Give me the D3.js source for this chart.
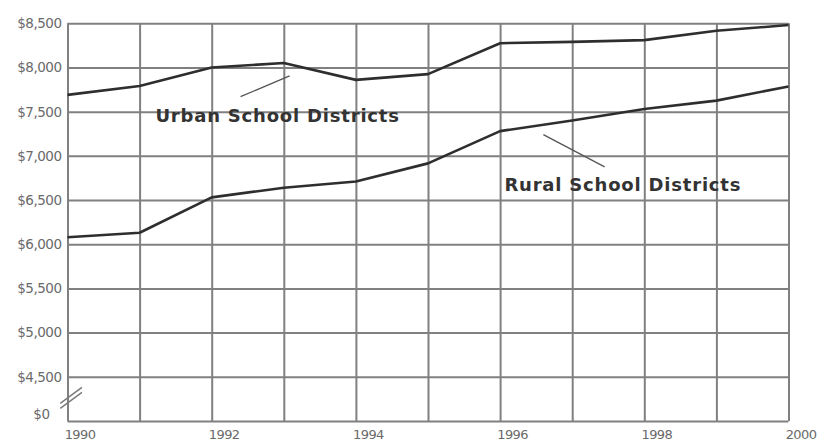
<!DOCTYPE html>
<html>
<head>
<meta charset="utf-8">
<script src="https://cdn.jsdelivr.net/npm/d3@7"></script>
<style>
  body { margin: 0; background: #fff; }
  svg { display: block; }
</style>
</head>
<body>
<div id="chart"></div>
<script>

// data
var years = [1990, 1991, 1992, 1993, 1994, 1995, 1996, 1997, 1998, 1999, 2000];
var urban = [7690, 7790, 8000, 8050, 7860, 7925, 8275, 8290, 8310, 8415, 8480];
var rural = [6080, 6130, 6530, 6640, 6710, 6915, 7280, 7400, 7530, 7625, 7785];

var yTicks = [4000, 4500, 5000, 5500, 6000, 6500, 7000, 7500, 8000, 8500];
var yTickLabels = ["$0", "$4,500", "$5,000", "$5,500", "$6,000", "$6,500", "$7,000", "$7,500", "$8,000", "$8,500"];
var xTicks = [1990, 1992, 1994, 1996, 1998, 2000];

// series labels with their leader lines, in data units
var seriesNames = ["Urban School Districts", "Rural School Districts"];
var labelPos = [[1991.22, 7385], [1996.06, 6600]];
var leaderFrom = [[1992.4, 7670], [1996.6, 7240]];
var leaderTo = [[1993.08, 7905], [1997.45, 6875]];

var W = 828, H = 442;
var margin = {top: 23.3, right: 39.5, bottom: 21, left: 67.5},
    width = W - margin.left - margin.right,
    height = H - margin.top - margin.bottom;

var svg = d3.select("#chart")
  .append("svg")
    .attr("width", W)
    .attr("height", H)
  .append("g")
    .attr("transform", "translate(" + margin.left + "," + margin.top + ")");

var x = d3.scaleLinear().domain([1990, 2000]).range([0, width]);
var y = d3.scaleLinear().domain([4000, 8500]).range([height, 0]);

var gridColor = "#808080";

// vertical grid every year
svg.append("g")
  .attr("class", "xgrid")
  .attr("transform", "translate(0," + height + ")")
  .call(d3.axisBottom(x).tickValues(years).tickSize(-height).tickFormat(""))
  .call(function(g) { g.select(".domain").remove(); })
  .selectAll("line")
    .attr("stroke", gridColor)
    .attr("stroke-width", 2);

// horizontal grid
svg.append("g")
  .attr("class", "ygrid")
  .call(d3.axisLeft(y).tickValues(yTicks).tickSize(-width).tickFormat(""))
  .call(function(g) { g.select(".domain").remove(); })
  .selectAll("line")
    .attr("stroke", gridColor)
    .attr("stroke-width", 2);

// y labels
var yAxis = svg.append("g")
  .call(d3.axisLeft(y).tickValues(yTicks).tickSize(0).tickPadding(6)
    .tickFormat(function(d, i) { return yTickLabels[i]; }));
yAxis.select(".domain").remove();
yAxis.selectAll("text")
  .attr("font-family", "DejaVu Sans")
  .attr("font-size", 13.5)
  .attr("letter-spacing", -0.5)
  .attr("fill", "#6a6a6a");
// the "$0" label sits lower left, beside the axis break
yAxis.selectAll(".tick").filter(function(d) { return d === 4000; })
  .select("text")
    .attr("x", -18)
    .attr("dy", "-0.15em");

// axis break marks
var brk = svg.append("g").attr("stroke", "#7a7a7a").attr("stroke-width", 1.5);
[0, 5].forEach(function(o) {
  brk.append("line")
    .attr("x1", x(1989.9)).attr("y1", y(4200) + o)
    .attr("x2", x(1990.2)).attr("y2", y(4380) + o);
});

// x labels
var xAxis = svg.append("g")
  .attr("transform", "translate(0," + height + ")")
  .call(d3.axisBottom(x).tickValues(xTicks).tickSize(0).tickPadding(9)
    .tickFormat(d3.format("d")));
xAxis.select(".domain").remove();
xAxis.selectAll("text")
  .attr("font-family", "DejaVu Sans")
  .attr("font-size", 13)
  .attr("letter-spacing", -0.6)
  .attr("dx", 12)
  .attr("fill", "#6a6a6a");

// lines
var line = d3.line()
  .x(function(d, i) { return x(years[i]); })
  .y(function(d) { return y(d); });

[urban, rural].forEach(function(s) {
  svg.append("path")
    .datum(s)
    .attr("fill", "none")
    .attr("stroke", "#2e2e2e")
    .attr("stroke-width", 2.6)
    .attr("stroke-linejoin", "round")
    .attr("d", line);
});

// labels and leaders
seriesNames.forEach(function(name, i) {
  svg.append("line")
    .attr("x1", x(leaderFrom[i][0])).attr("y1", y(leaderFrom[i][1]))
    .attr("x2", x(leaderTo[i][0])).attr("y2", y(leaderTo[i][1]))
    .attr("stroke", "#555")
    .attr("stroke-width", 1.3);
  svg.append("text")
    .attr("x", x(labelPos[i][0]))
    .attr("y", y(labelPos[i][1]))
    .attr("font-family", "DejaVu Sans")
    .attr("font-size", 18)
    .attr("font-weight", "bold")
    .attr("letter-spacing", 0.8)
    .attr("fill", "#333")
    .text(name);
});

</script>
</body>
</html>
